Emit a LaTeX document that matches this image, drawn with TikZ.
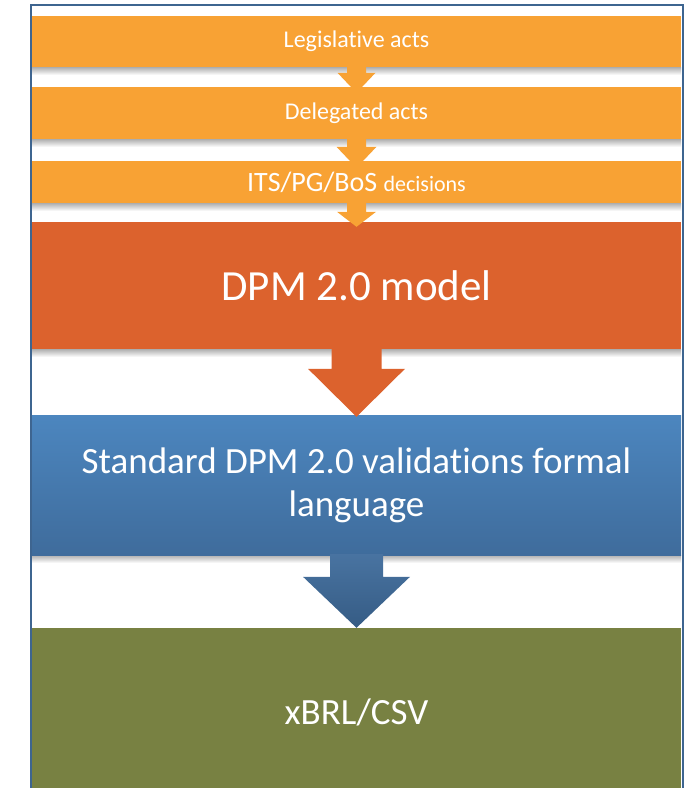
\documentclass[tikz,border=0pt]{standalone}
\usepackage{fontspec}
\setmainfont[Ligatures={NoCommon}]{Carlito}
\usetikzlibrary{calc}
\definecolor{barorange}{HTML}{F8A234}
\definecolor{dpmred}{HTML}{DC622D}
\definecolor{bluetop}{HTML}{4C86BF}
\definecolor{bluebot}{HTML}{3F6C9C}
\definecolor{olive}{HTML}{788142}
\definecolor{framecol}{HTML}{3E6590}
\tikzset{
  bar/.style={rectangle, inner sep=0pt, minimum width=649pt, text=white, align=center, font=#1},
  shadowbar/.style={top color=black!32, bottom color=white, draw=none},
}
% #1 from node, #2 to node, #3 shaft half width, #4 head half width, #5 head length, #6 tip overshoot, #7 fill options
\newcommand\flowarrow[7]{%
  \path[#7] let \p1=(#1.south), \p2=(#2.north) in
    (\x1-#3pt,\y1+1pt) -- (\x1-#3pt,\y2-#6pt+#5pt) -- (\x1-#4pt,\y2-#6pt+#5pt)
    -- (\x1,\y2-#6pt) -- (\x1+#4pt,\y2-#6pt+#5pt) -- (\x1+#3pt,\y2-#6pt+#5pt)
    -- (\x1+#3pt,\y1+1pt) -- cycle;}
\begin{document}
\begin{tikzpicture}[x=1pt,y=-1pt]
\useasboundingbox (0,0) rectangle (684,788);
\clip (0,0) rectangle (684,788);
\fill[white] (0,0) rectangle (684,788);
% shadows
\foreach \y in {67,139,203,349,555}{
  \shade[shadowbar] (32,\y) rectangle (681,\y+8);
}
% bars
\node[bar={\fontsize{24}{28}\selectfont}, fill=barorange, minimum height=51pt] (b1) at (356.5,41.5) {Legislative acts};
\node[bar={\fontsize{24}{28}\selectfont}, fill=barorange, minimum height=52pt] (b2) at (356.5,113) {Delegated acts};
\node[bar={\fontsize{28}{32}\selectfont}, fill=barorange, minimum height=42pt] (b3) at (356.5,182) {ITS/PG/BoS {\fontsize{22}{26}\selectfont decisions}};
\node[bar={\fontsize{43}{50}\selectfont}, fill=dpmred, minimum height=127pt] (b4) at (356.5,285.5) {DPM 2.0 model};
\shade[top color=bluetop, bottom color=bluebot] (32,415) rectangle (681,555);
\node[bar={\fontsize{37}{43}\selectfont}, minimum height=140pt] (b5) at (356.5,485) {Standard DPM 2.0 validations formal\\language};
\node[bar={\fontsize{37}{44}\selectfont}, fill=olive, minimum height=168pt] (b6) at (356.5,712) {xBRL/CSV};
% arrows
\flowarrow{b1}{b2}{9.5}{19}{20}{6}{fill=barorange}
\flowarrow{b2}{b3}{9.5}{20}{21}{7}{fill=barorange}
\flowarrow{b3}{b4}{9.5}{19.5}{15}{5}{fill=barorange}
\flowarrow{b4}{b5}{25}{48.5}{48}{2}{fill=dpmred}
\flowarrow{b5}{b6}{26.5}{53.5}{51}{0}{top color=bluebot!95!white, bottom color=bluebot!85!black}
% frame
\draw[framecol, line width=2pt] (31,800) -- (31,4.5) -- (682.5,4.5) -- (682.5,800);
\end{tikzpicture}
\end{document}
